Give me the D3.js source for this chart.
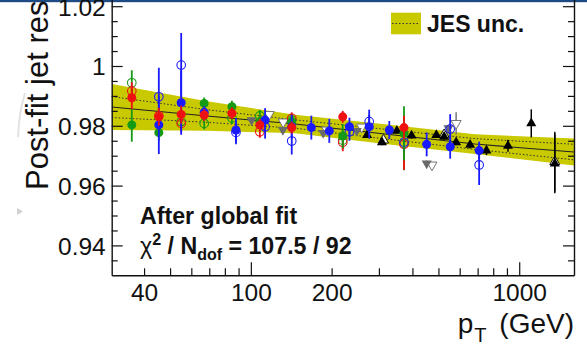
<!DOCTYPE html>
<html><head><meta charset="utf-8">
<script src="https://cdn.jsdelivr.net/npm/d3@7/dist/d3.min.js"></script>
<style>
html,body{margin:0;padding:0;background:#fff;overflow:hidden;}
svg{display:block;font-family:"Liberation Sans",Arial,Helvetica,sans-serif;}
</style></head>
<body>
<svg id="c" width="587" height="347"></svg>
<script>
// ---------- data ----------
const xLabelTicks = [40, 100, 200, 1000];
const xMajorTicks = [100, 1000];
const xMinorTicks = [40, 50, 60, 70, 80, 90, 200, 300, 400, 500, 600, 700, 800, 900];
const yLabelTicks = [0.94, 0.96, 0.98, 1.00, 1.02];
const yLabelText = ["0.94", "0.96", "0.98", "1", "1.02"];
const yMinorTicks = [0.935, 0.945, 0.95, 0.955, 0.965, 0.97, 0.975, 0.985, 0.99, 0.995, 1.005, 1.01, 1.015];

// JES uncertainty band
const bandPt = [30.3, 68.7, 146, 316, 685, 1600];
const bandCenter = [0.98628, 0.98327, 0.98059, 0.97724, 0.97390, 0.97122];
const bandTotalUnc = [0.0077, 0.0049, 0.0031, 0.0033, 0.0033, 0.0045];
const bandInnerUnc = [0.0035, 0.0021, 0.0014, 0.0016, 0.0018, 0.0026];

// green filled / open circles
const gfPt = [36, 45.4, 67, 85, 108, 142, 220, 372];
const gfVal = [0.9803, 0.9777, 0.9875, 0.9864, 0.9814, 0.9814, 0.9766, 0.9775];
const gfErr = [0.0056, 0.0027, 0.002, 0.002, 0.002, 0.002, 0.004, 0.009];
const goPt = [36, 55, 67, 85, 108, 142, 220, 372];
const goVal = [0.9944, 0.9814, 0.9808, 0.9826, 0.9833, 0.9819, 0.9752, 0.9741];
const goErr = [0.0042, 0.003, 0.002, 0.002, 0.002, 0.002, 0.003, 0.009];
// red filled / open circles
const rfPt = [36, 45.4, 55, 67, 85, 108, 142, 220, 372];
const rfVal = [0.9894, 0.9830, 0.9838, 0.9836, 0.9842, 0.9803, 0.9794, 0.9830, 0.9794];
const rfErr = [0.0039, 0.003, 0.003, 0.002, 0.002, 0.002, 0.002, 0.002, 0.004];
const roPt = [36, 45.4, 55, 108, 142, 220, 372];
const roVal = [0.9916, 0.9833, 0.9808, 0.9780, 0.9825, 0.9745, 0.9738];
const roErr = [0.003, 0.003, 0.003, 0.002, 0.002, 0.003, 0.0085];
// blue filled / open circles
const bfPt = [45.4, 55, 67, 88, 113, 142, 168, 196, 233, 276, 328, 452, 553, 709];
const bfVal = [0.9803, 0.9877, 0.9845, 0.9786, 0.9819, 0.9797, 0.9794, 0.9783, 0.9797, 0.9797, 0.9786, 0.9738, 0.9730, 0.9717];
const bfErr = [0.0097, 0.0107, 0.002, 0.004, 0.004, 0.004, 0.004, 0.004, 0.003, 0.004, 0.003, 0.004, 0.004, 0.003];
const boPt = [45.4, 55, 88, 113, 142, 233, 276, 372, 553, 709];
const boVal = [0.9897, 1.0003, 0.9778, 0.9797, 0.9749, 0.9780, 0.9814, 0.9745, 0.9789, 0.9669];
const boErr = [0.0097, 0.0107, 0.004, 0.004, 0.0045, 0.003, 0.004, 0.003, 0.005, 0.0067];
// black up triangles
const kfPt = [271, 308, 350, 397, 491, 525, 582, 656, 755, 908, 1109, 1357];
const kfVal = [0.9769, 0.9745, 0.9783, 0.9767, 0.9769, 0.9763, 0.9745, 0.9736, 0.9717, 0.9733, 0.9808, 0.9674];
const kfErr = [0.001, 0.001, 0.001, 0.001, 0.001, 0.001, 0.001, 0.0012, 0.0015, 0.002, 0.0047, 0.01];
const koPt = [312, 525, 1357];
const koVal = [0.9752, 0.9770, 0.9680];
const koErr = [0.001, 0.001, 0.01];
// gray down triangles
const gdfPt = [100.6, 131.6, 186, 248, 452, 545];
const gdfVal = [0.9819, 0.9786, 0.9776, 0.9783, 0.9674, 0.9792];
const gdfErr = [0.001, 0.001, 0.001, 0.001, 0.001, 0.001];
const gdoPt = [117, 132, 192, 259, 473, 582];
const gdoVal = [0.9838, 0.9813, 0.9786, 0.9796, 0.9669, 0.9808];
const gdoErr = [0.001, 0.001, 0.001, 0.001, 0.001, 0.0037];

// ---------- chart ----------
const svg = d3.select("#c");
const L = 111.7, R = 574, B = 275.3;
const x = d3.scaleLog().domain([30.3, 1600]).range([L, R]);
const y = d3.scaleLinear().domain([0.93, 1.03]).range([B, -23.7]);

// header bar
svg.append("rect").attr("x", 0).attr("y", 0).attr("width", 587).attr("height", 2.2).attr("fill", "#1f4b85");

// faint slide artifacts
svg.append("path").attr("d", "M18,137 Q19,112 25,93").attr("fill", "none").attr("stroke", "#e2e2e2").attr("stroke-width", 2);
svg.append("path").attr("d", "M17,208 L23,211.5 L17,215 Z").attr("fill", "#d0d0d0");

const clip = svg.append("clipPath").attr("id", "pc").append("rect")
  .attr("x", L).attr("y", -30).attr("width", R - L).attr("height", B + 30);
const plot = svg.append("g").attr("clip-path", "url(#pc)");

const band = bandPt.map((p, i) => ({p, c: bandCenter[i], t: bandTotalUnc[i], n: bandInnerUnc[i]}));
plot.append("path").datum(band)
  .attr("d", d3.area().x(d => x(d.p)).y0(d => y(d.c - d.t)).y1(d => y(d.c + d.t)))
  .attr("fill", "#c9c900");
[1, -1].forEach(s => {
  plot.append("path").datum(band)
    .attr("d", d3.line().x(d => x(d.p)).y(d => y(d.c + s * d.n)))
    .attr("fill", "none").attr("stroke", "#333").attr("stroke-width", 1).attr("stroke-dasharray", "1.5,2");
});
plot.append("path").datum(band)
  .attr("d", d3.line().x(d => x(d.p)).y(d => y(d.c)))
  .attr("fill", "none").attr("stroke", "#222").attr("stroke-width", 1.1);

// series
const series = [
  {pt: gdoPt, v: gdoVal, e: gdoErr, color: "#777", shape: "down", fill: false},
  {pt: gdfPt, v: gdfVal, e: gdfErr, color: "#6a6a6a", shape: "down", fill: true},
  {pt: koPt, v: koVal, e: koErr, color: "#111", shape: "up", fill: false},
  {pt: kfPt, v: kfVal, e: kfErr, color: "#000", shape: "up", fill: true},
  {pt: goPt, v: goVal, e: goErr, color: "#159a15", shape: "circle", fill: false},
  {pt: roPt, v: roVal, e: roErr, color: "#ee1111", shape: "circle", fill: false},
  {pt: boPt, v: boVal, e: boErr, color: "#1a1aff", shape: "circle", fill: false},
  {pt: gfPt, v: gfVal, e: gfErr, color: "#159a15", shape: "circle", fill: true},
  {pt: bfPt, v: bfVal, e: bfErr, color: "#1a1aff", shape: "circle", fill: true},
  {pt: rfPt, v: rfVal, e: rfErr, color: "#ee1111", shape: "circle", fill: true}
];
const tri = d3.symbol().type(d3.symbolTriangle).size(44);
series.forEach(s => {
  const pts = s.pt.map((p, i) => ({p, v: s.v[i], e: s.e[i]}));
  const g = plot.append("g");
  g.selectAll("line").data(pts).join("line")
    .attr("x1", d => x(d.p)).attr("x2", d => x(d.p))
    .attr("y1", d => y(d.v - d.e)).attr("y2", d => y(d.v + d.e))
    .attr("stroke", s.color).attr("stroke-width", s.shape === "circle" ? 1.8 : 1.5);
  if (s.shape === "circle") {
    g.selectAll("circle").data(pts).join("circle")
      .attr("cx", d => x(d.p)).attr("cy", d => y(d.v)).attr("r", s.fill ? 4.5 : 4.3)
      .attr("fill", s.fill ? s.color : "none").attr("stroke", s.color).attr("stroke-width", s.fill ? 0 : 1.1);
  } else {
    g.selectAll("path").data(pts).join("path")
      .attr("d", tri)
      .attr("transform", d => `translate(${x(d.p)},${y(d.v)})` + (s.shape === "down" ? " rotate(180)" : ""))
      .attr("fill", s.fill ? s.color : "#fff").attr("stroke", s.color).attr("stroke-width", s.fill ? 0 : 1);
  }
});

// axes
const axG = svg.append("g");
const styleAxis = g => { g.selectAll("path.domain").attr("stroke", "#111").attr("stroke-width", 1.4); g.selectAll("line").attr("stroke", "#111").attr("stroke-width", 1.2); };
// bottom
axG.append("g").attr("transform", `translate(0,${B})`)
  .call(d3.axisBottom(x).tickValues(xMajorTicks).tickSizeInner(-13).tickSizeOuter(0).tickFormat(""))
  .call(styleAxis);
axG.append("g").attr("transform", `translate(0,${B})`)
  .call(d3.axisBottom(x).tickValues(xMinorTicks).tickSizeInner(-7).tickSizeOuter(0).tickFormat(""))
  .call(styleAxis).call(g => g.select("path.domain").remove());
axG.append("g").attr("transform", `translate(0,${B})`)
  .call(d3.axisBottom(x).tickValues(xLabelTicks).tickSize(0).tickPadding(26).tickFormat(d3.format("d")))
  .call(g => { g.select("path.domain").remove(); g.selectAll("text").attr("font-size", 24.5).attr("fill", "#111").attr("dy", 0); });
// left
axG.append("g").attr("transform", `translate(${L},0)`)
  .call(d3.axisLeft(y).tickValues(yLabelTicks).tickSizeInner(-11).tickSizeOuter(0).tickPadding(6)
    .tickFormat((d, i) => yLabelText[i]))
  .call(styleAxis)
  .call(g => g.selectAll("text").attr("font-size", 24.5).attr("fill", "#111").attr("dy", "0.36em"));
axG.append("g").attr("transform", `translate(${L},0)`)
  .call(d3.axisLeft(y).tickValues(yMinorTicks).tickSizeInner(-6).tickSizeOuter(0).tickFormat(""))
  .call(styleAxis).call(g => g.select("path.domain").remove());
// right
axG.append("g").attr("transform", `translate(${R},0)`)
  .call(d3.axisRight(y).tickValues(yLabelTicks).tickSizeInner(-11).tickSizeOuter(0).tickFormat(""))
  .call(styleAxis);
axG.append("g").attr("transform", `translate(${R},0)`)
  .call(d3.axisRight(y).tickValues(yMinorTicks).tickSizeInner(-6).tickSizeOuter(0).tickFormat(""))
  .call(styleAxis).call(g => g.select("path.domain").remove());

// axis titles
svg.append("text").attr("transform", "translate(48,190) rotate(-90)")
  .attr("font-size", 31).attr("fill", "#111").text("Post-fit jet response");
const xt = svg.append("text").attr("x", 574).attr("y", 333).attr("text-anchor", "end")
  .attr("font-size", 28).attr("fill", "#111");
xt.append("tspan").text("p");
xt.append("tspan").attr("font-size", 20).attr("dx", 1).attr("dy", 9).text("T");
xt.append("tspan").attr("dx", 5).attr("dy", -9).text(" (GeV)");

// legend
svg.append("rect").attr("x", 391).attr("y", 12.7).attr("width", 30).attr("height", 21.6).attr("fill", "#c9c900");
svg.append("line").attr("x1", 392).attr("x2", 420).attr("y1", 23.5).attr("y2", 23.5)
  .attr("stroke", "#333").attr("stroke-width", 1).attr("stroke-dasharray", "1.5,2");
svg.append("text").attr("x", 427).attr("y", 31.5).attr("font-size", 23).attr("font-weight", "bold")
  .attr("fill", "#111").text("JES unc.");

// annotations
svg.append("text").attr("x", 140).attr("y", 224.3).attr("font-size", 23.2).attr("font-weight", "bold")
  .attr("fill", "#111").text("After global fit");
const ch = svg.append("text").attr("x", 140).attr("y", 253.5).attr("font-size", 23.2).attr("font-weight", "bold").attr("fill", "#111");
ch.append("tspan").attr("font-weight", "normal").text("χ");
ch.append("tspan").attr("font-size", 16).attr("dy", -9).text("2");
ch.append("tspan").attr("dy", 9).text(" / N");
ch.append("tspan").attr("font-size", 16).attr("dy", 6).text("dof");
ch.append("tspan").attr("dy", -6).text(" = 107.5 / 92");
</script>
</body></html>
